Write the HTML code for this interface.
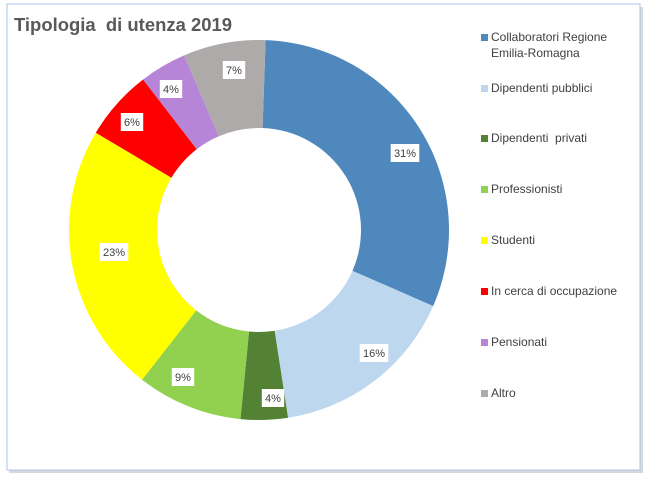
<!DOCTYPE html>
<html><head><meta charset="utf-8"><style>
body{margin:0;background:#fff;width:649px;height:482px;overflow:hidden;font-family:"Liberation Sans",sans-serif}
</style></head><body>
<svg id="s" width="649" height="482" xmlns="http://www.w3.org/2000/svg">
<rect x="9" y="7" width="634" height="466" fill="#d8d8d8"/>
<rect x="7" y="4" width="633" height="466" fill="#fff" stroke="#a9c6e8" stroke-width="1"/>
<text x="14" y="31" font-size="18.5" font-weight="bold" fill="#595959" textLength="218" lengthAdjust="spacingAndGlyphs">Tipologia&#160; di utenza 2019</text>
<g id="pie"></g>
<g font-size="12" fill="#404040">
<rect x="481" y="34" width="7" height="7" fill="#4f88bd"/><text x="491" y="41">Collaboratori Regione</text><text x="491" y="57">Emilia-Romagna</text>
<rect x="481" y="85" width="7" height="7" fill="#bdd7ee"/><text x="491" y="92">Dipendenti pubblici</text>
<rect x="481" y="135" width="7" height="7" fill="#548235"/><text x="491" y="142">Dipendenti&#160; privati</text>
<rect x="481" y="186" width="7" height="7" fill="#92d050"/><text x="491" y="193">Professionisti</text>
<rect x="481" y="237" width="7" height="7" fill="#ffff00"/><text x="491" y="244">Studenti</text>
<rect x="481" y="288" width="7" height="7" fill="#ff0000"/><text x="491" y="295">In cerca di occupazione</text>
<rect x="481" y="339" width="7" height="7" fill="#b685d8"/><text x="491" y="346">Pensionati</text>
<rect x="481" y="390" width="7" height="7" fill="#aeaaaa"/><text x="491" y="397">Altro</text>
</g>
</svg>
<script>
var d=[[31,"#4f88bd",405,153],[16,"#bdd7ee",374,353],[4,"#548235",273,398],[9,"#92d050",183,377],[23,"#ffff00",114,252],[6,"#ff0000",132,122],[4,"#b685d8",171,89],[7,"#aeaaaa",234,70]];
var cx=259,cy=230,R=190,r=102,a=2,h="";
function p(ang,rad){var t=ang*Math.PI/180;return (cx+rad*Math.sin(t)).toFixed(2)+" "+(cy-rad*Math.cos(t)).toFixed(2);}
d.forEach(function(s){var b=a+s[0]*3.6,l=s[0]>50?1:0;
h+='<path d="M'+p(a,R)+' A'+R+' '+R+' 0 '+l+' 1 '+p(b,R)+' L'+p(b,r)+' A'+r+' '+r+' 0 '+l+' 0 '+p(a,r)+' Z" fill="'+s[1]+'"/>';a=b;});
d.forEach(function(s){var t=s[0]+"%",w=t.length*6.2+10;
h+='<rect x="'+(s[2]-w/2)+'" y="'+(s[3]-9)+'" width="'+w+'" height="18" fill="#fff"/><text x="'+s[2]+'" y="'+(s[3]+4)+'" font-size="11" text-anchor="middle" fill="#404040">'+t+'</text>';});
document.getElementById("pie").innerHTML=h;
</script>
</body></html>
